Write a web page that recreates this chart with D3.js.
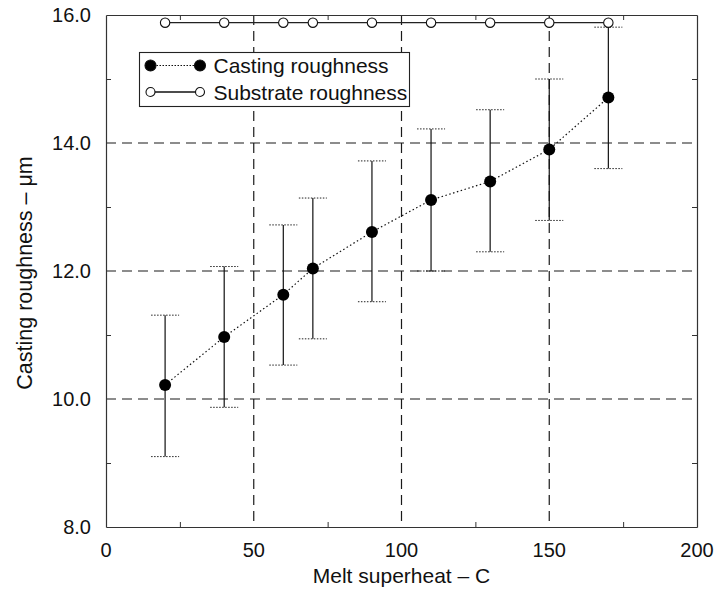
<!DOCTYPE html>
<html>
<head>
<meta charset="utf-8">
<script src="https://cdn.jsdelivr.net/npm/d3@7"></script>
<style>
body { margin: 0; background: #fff; }
text { font-family: "Liberation Sans", Arial, sans-serif; fill: #111; }
</style>
</head>
<body>
<svg id="chart"></svg>
<script>
var width = 716;
var height = 590;

// melt superheat (C)
var superheat = [20, 40, 60, 70, 90, 110, 130, 150, 170];
// casting roughness mean and error bar ends (um)
var castingMean = [10.22, 10.97, 11.63, 12.04, 12.61, 13.11, 13.40, 13.90, 14.71];
var castingLow  = [9.10, 9.87, 10.53, 10.94, 11.52, 12.00, 12.30, 12.79, 13.60];
var castingHigh = [11.31, 12.07, 12.72, 13.14, 13.72, 14.22, 14.52, 15.00, 15.81];
// substrate roughness (um)
var substrate = [15.88, 15.88, 15.88, 15.88, 15.88, 15.88, 15.88, 15.88, 15.88];

var xTicks = [0, 50, 100, 150, 200];
var yTicks = [8, 10, 12, 14, 16];
var xGrid = [50, 100, 150];
var yGrid = [10, 12, 14];
var xMinor = [25, 75, 125, 175];
var yMinor = [9, 11, 13, 15];

var legendLabels = ["Casting roughness", "Substrate roughness"];

var x = d3.scaleLinear().domain([0, 200]).range([106, 697]);
var y = d3.scaleLinear().domain([8, 16]).range([527, 15]);

var svg = d3.select("#chart").attr("width", width).attr("height", height);

var casting = superheat.map(function(d, i) {
    return { x: d, y: castingMean[i], lo: castingLow[i], hi: castingHigh[i] };
});
var subs = superheat.map(function(d, i) {
    return { x: d, y: substrate[i] };
});

// grid
svg.append("g").selectAll("line")
    .data(xGrid)
    .enter().append("line")
    .attr("x1", function(d) { return x(d); })
    .attr("x2", function(d) { return x(d); })
    .attr("y1", y(16))
    .attr("y2", y(8))
    .attr("stroke", "#1a1a1a")
    .attr("stroke-width", 1.2)
    .attr("stroke-dasharray", "10,6");

svg.append("g").selectAll("line")
    .data(yGrid)
    .enter().append("line")
    .attr("x1", x(0))
    .attr("x2", x(200))
    .attr("y1", function(d) { return y(d); })
    .attr("y2", function(d) { return y(d); })
    .attr("stroke", "#1a1a1a")
    .attr("stroke-width", 1.2)
    .attr("stroke-dasharray", "10,6");

// axes with inward ticks
var axB = svg.append("g").attr("transform", "translate(0," + y(8) + ")")
    .call(d3.axisBottom(x).tickValues(xMinor).tickSizeInner(-5).tickSizeOuter(0).tickFormat(""));
var axT = svg.append("g").attr("transform", "translate(0," + y(16) + ")")
    .call(d3.axisTop(x).tickValues(xMinor).tickSizeInner(-5).tickSizeOuter(0).tickFormat(""));
var axL = svg.append("g").attr("transform", "translate(" + x(0) + ",0)")
    .call(d3.axisLeft(y).tickValues(yMinor).tickSizeInner(-5).tickSizeOuter(0).tickFormat(""));
var axR = svg.append("g").attr("transform", "translate(" + x(200) + ",0)")
    .call(d3.axisRight(y).tickValues(yMinor).tickSizeInner(-5).tickSizeOuter(0).tickFormat(""));
[axB, axT, axL, axR].forEach(function(a) {
    a.select(".domain").attr("stroke", "#333").attr("stroke-width", 1.2);
    a.selectAll(".tick line").attr("stroke", "#333");
});

// tick labels
svg.append("g").selectAll("text")
    .data(xTicks)
    .enter().append("text")
    .attr("x", function(d) { return x(d); })
    .attr("y", y(8) + 30)
    .attr("text-anchor", "middle")
    .attr("font-size", "20px")
    .text(function(d) { return d; });

svg.append("g").selectAll("text")
    .data(yTicks)
    .enter().append("text")
    .attr("x", 91)
    .attr("y", function(d) { return y(d) + 7; })
    .attr("text-anchor", "end")
    .attr("font-size", "20px")
    .text(function(d) { return d3.format(".1f")(d); });

// axis titles
svg.append("text")
    .attr("x", x(100))
    .attr("y", 583)
    .attr("text-anchor", "middle")
    .attr("font-size", "21px")
    .text("Melt superheat \u2013 C");

svg.append("text")
    .attr("transform", "translate(32," + 273 + ") rotate(-90)")
    .attr("text-anchor", "middle")
    .attr("font-size", "21.5px")
    .text("Casting roughness \u2013 \u03bcm");

// error bars
var err = svg.append("g");
err.selectAll("line.bar")
    .data(casting)
    .enter().append("line")
    .attr("class", "bar")
    .attr("x1", function(d) { return x(d.x); })
    .attr("x2", function(d) { return x(d.x); })
    .attr("y1", function(d) { return y(d.lo); })
    .attr("y2", function(d) { return y(d.hi); })
    .attr("stroke", "#111")
    .attr("stroke-width", 1.2);

["lo", "hi"].forEach(function(k) {
    err.selectAll("line.cap" + k)
        .data(casting)
        .enter().append("line")
        .attr("class", "cap" + k)
        .attr("x1", function(d) { return x(d.x) - 14; })
        .attr("x2", function(d) { return x(d.x) + 14; })
        .attr("y1", function(d) { return y(d[k]); })
        .attr("y2", function(d) { return y(d[k]); })
        .attr("stroke", "#222")
        .attr("stroke-width", 1)
        .attr("stroke-dasharray", "1.5,1.5");
});

// lines
var line = d3.line()
    .x(function(d) { return x(d.x); })
    .y(function(d) { return y(d.y); });

svg.append("path")
    .datum(casting)
    .attr("d", line)
    .attr("fill", "none")
    .attr("stroke", "#111")
    .attr("stroke-width", 1.2)
    .attr("stroke-dasharray", "1.5,2.5");

svg.append("path")
    .datum(subs)
    .attr("d", line)
    .attr("fill", "none")
    .attr("stroke", "#222")
    .attr("stroke-width", 1.3);

svg.append("g").selectAll("circle")
    .data(casting)
    .enter().append("circle")
    .attr("cx", function(d) { return x(d.x); })
    .attr("cy", function(d) { return y(d.y); })
    .attr("r", 6)
    .attr("fill", "#000");

svg.append("g").selectAll("circle")
    .data(subs)
    .enter().append("circle")
    .attr("cx", function(d) { return x(d.x); })
    .attr("cy", function(d) { return y(d.y); })
    .attr("r", 4.7)
    .attr("fill", "#fff")
    .attr("stroke", "#111")
    .attr("stroke-width", 1.1);

// legend
var legend = svg.append("g").attr("transform", "translate(139.5,52.5)");
legend.append("rect")
    .attr("width", 270)
    .attr("height", 54)
    .attr("fill", "#fff")
    .attr("stroke", "#222")
    .attr("stroke-width", 1.1);

var rows = legend.selectAll("g.row")
    .data(legendLabels)
    .enter().append("g")
    .attr("class", "row")
    .attr("transform", function(d, i) { return "translate(0," + (13 + i * 26.5) + ")"; });

rows.append("line")
    .attr("x1", 11)
    .attr("x2", 60.5)
    .attr("stroke", "#111")
    .attr("stroke-width", function(d, i) { return i == 0 ? 1 : 1.3; })
    .attr("stroke-dasharray", function(d, i) { return i == 0 ? "1.5,1.5" : null; });

[11, 60.5].forEach(function(cx) {
    rows.append("circle")
        .attr("cx", cx)
        .attr("r", function(d, i) { return i == 0 ? 5.5 : 4.5; })
        .attr("fill", function(d, i) { return i == 0 ? "#000" : "#fff"; })
        .attr("stroke", "#111")
        .attr("stroke-width", 1.1);
});

rows.append("text")
    .attr("x", 74)
    .attr("y", 7.5)
    .attr("font-size", "21px")
    .text(function(d) { return d; });
</script>
</body>
</html>
